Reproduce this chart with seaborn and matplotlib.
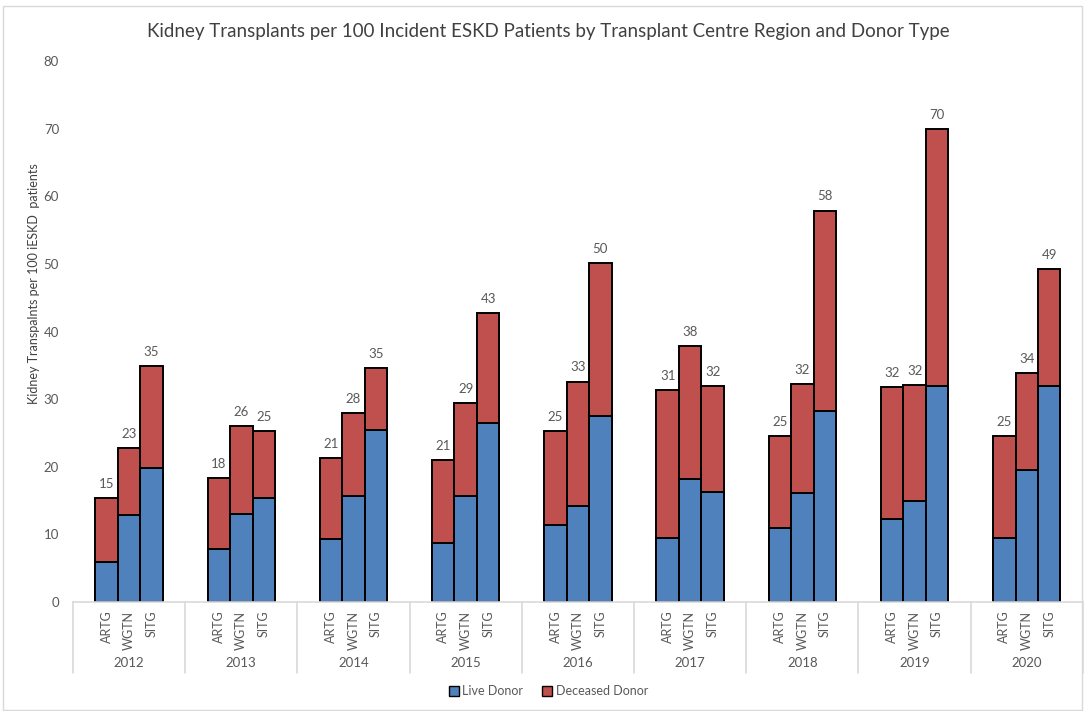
import numpy as np
import pandas as pd
import seaborn as sns
import matplotlib.pyplot as plt
from matplotlib.patches import Patch, Rectangle
from matplotlib.transforms import blended_transform_factory

years = ['2012', '2013', '2014', '2015', '2016', '2017', '2018', '2019', '2020']
regions = ['ARTG', 'WGTN', 'SITG']

# live donor transplants per 100 incident ESKD patients
live_artg = [5.9, 7.8, 9.3, 8.7, 11.4, 9.5, 11.0, 12.3, 9.5]
live_wgtn = [12.9, 13.0, 15.7, 15.7, 14.2, 18.2, 16.1, 15.0, 19.5]
live_sitg = [19.8, 15.4, 25.4, 26.5, 27.5, 16.3, 28.3, 31.9, 31.9]

# deceased donor
dec_artg = [9.5, 10.5, 12.0, 12.3, 13.9, 21.9, 13.6, 19.5, 15.1]
dec_wgtn = [9.9, 13.0, 12.3, 13.7, 18.4, 19.6, 16.1, 17.1, 14.3]
dec_sitg = [15.1, 9.9, 9.2, 16.2, 22.6, 15.7, 29.6, 38.0, 17.3]

blue = '#4F81BD'
red = '#C0504D'
grey = '#595959'
line_grey = '#D9D9D9'

live = [live_artg, live_wgtn, live_sitg]
dec = [dec_artg, dec_wgtn, dec_sitg]
rows = []
for g, yr in enumerate(years):
    for j, reg in enumerate(regions):
        rows.append({'pos': g * 5 + 1.5 + j, 'year': yr, 'region': reg,
                     'live': live[j][g], 'deceased': dec[j][g]})
df = pd.DataFrame(rows)
df['total'] = df['live'] + df['deceased']

sns.set_theme(style='white')
plt.rcParams['font.family'] = ['Lato', 'DejaVu Sans']

fig = plt.figure(figsize=(10.84, 7.11), dpi=100)
ax = fig.add_axes([0.0673, 0.1533, 0.9317, 0.7607])

# totals drawn in red, live donor drawn over them in blue
sns.barplot(data=df, x='pos', y='total', native_scale=True, width=1, color=red,
            saturation=1, edgecolor='black', linewidth=1.4, errorbar=None, ax=ax)
sns.barplot(data=df, x='pos', y='live', native_scale=True, width=1, color=blue,
            saturation=1, edgecolor='black', linewidth=1.4, errorbar=None, ax=ax)

for _, r in df.iterrows():
    ax.text(r['pos'], r['total'] + 1.2, f"{round(r['total'])}", ha='center', va='bottom',
            fontsize=9.5, color=grey)

ax.set_xlim(0, 45)
ax.set_ylim(0, 80)
ax.set_yticks(range(0, 81, 10))
ax.tick_params(axis='y', length=0, labelsize=9.5, labelcolor=grey, pad=10)
ax.set_xticks([])
ax.set_xlabel('')
ax.set_ylabel('Kidney Transpalnts per 100 iESKD  patients', fontsize=9, color='#404040')
ax.yaxis.set_label_coords(-0.033, 0.588)
for s in ['top', 'right', 'left']:
    ax.spines[s].set_visible(False)
ax.spines['bottom'].set_color(line_grey)
ax.spines['bottom'].set_linewidth(1.2)

tr = blended_transform_factory(ax.transData, ax.transAxes)
for _, r in df.iterrows():
    ax.text(r['pos'], -0.016, r['region'], rotation=90, ha='center', va='top',
            fontsize=9, color=grey, transform=tr)
for g, yr in enumerate(years):
    ax.text(g * 5 + 2.5, -0.113, yr, ha='center', va='center', fontsize=9.5,
            color=grey, transform=tr)
for b in range(0, 46, 5):
    ax.plot([b, b], [0, -0.131], color=line_grey, lw=1.2, transform=tr, clip_on=False)

fig.suptitle('Kidney Transplants per 100 Incident ESKD Patients by Transplant Centre Region and Donor Type',
             x=0.506, y=0.967, fontsize=13.5, color='#404040')

handles = [Patch(facecolor=blue, edgecolor='black', label='Live Donor'),
           Patch(facecolor=red, edgecolor='black', label='Deceased Donor')]
fig.legend(handles=handles, loc='center', bbox_to_anchor=(0.506, 0.028), ncol=2,
           frameon=False, fontsize=9, handlelength=0.8, handleheight=0.8,
           handletextpad=0.3, columnspacing=1.5, labelcolor=grey)

fig.patches.append(Rectangle((0.003, 0.002), 0.995, 0.99, transform=fig.transFigure,
                             fill=False, edgecolor=line_grey, lw=1))

fig.savefig('out.png', dpi=100)
